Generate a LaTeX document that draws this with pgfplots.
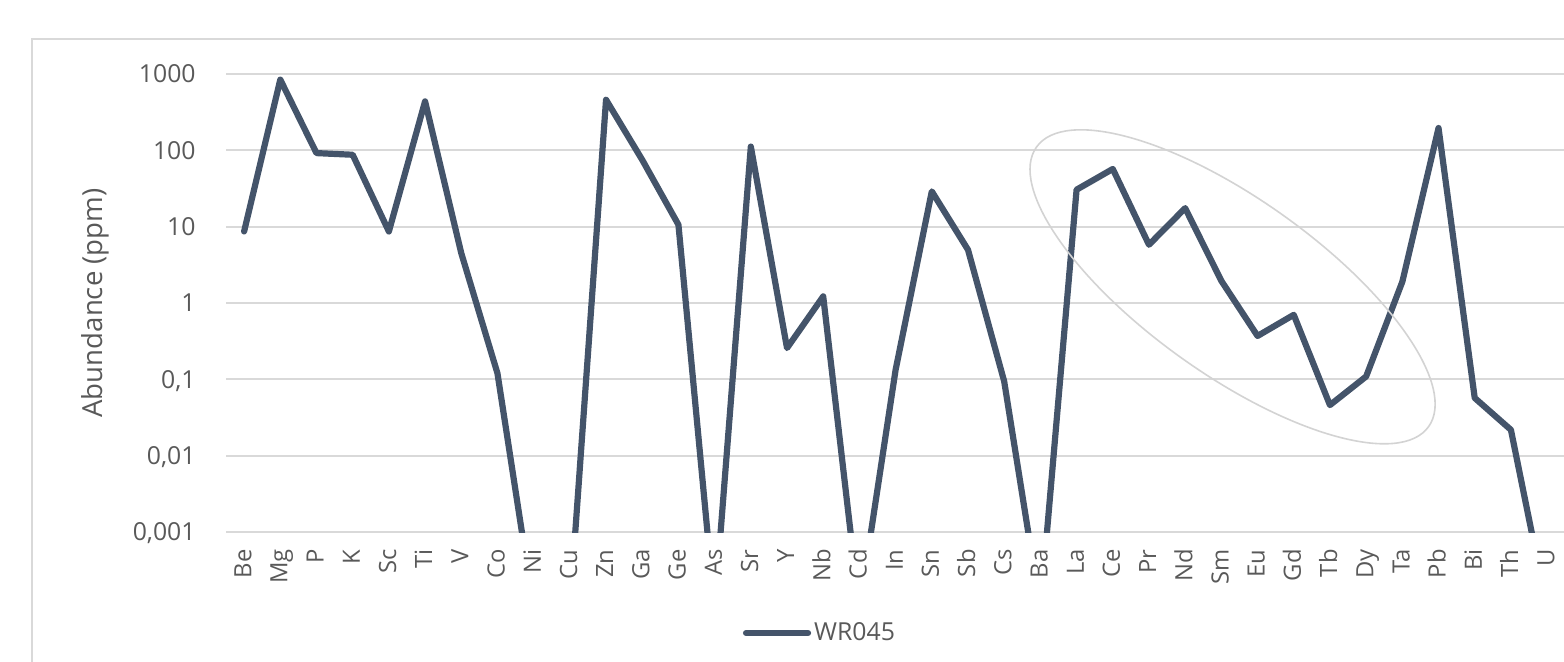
\documentclass[border=0pt]{standalone}
\usepackage{pgfplots}
\usepackage{pgfplotstable}
\pgfplotsset{compat=1.18}
\usepackage{fontspec}
\setmainfont{Open Sans}

\definecolor{seriesblue}{HTML}{44546A}
\definecolor{gridgray}{HTML}{D9D9D9}
\definecolor{labelgray}{HTML}{595959}
\definecolor{ringgray}{HTML}{D3D3D3}

% Element abundances of sample WR045 (ppm); values below 0.001 fall off the axis
\pgfplotstableread{
el  val
Be  8.65
Mg  843
P   92
K   87.5
Sc  8.65
Ti  438
V   4.5
Co  0.12
Ni  0.0001
Cu  0.0001
Zn  460
Ga  75
Ge  10.6
As  0.0001
Sr  112
Y   0.257
Nb  1.22
Cd  0.0001
In  0.133
Sn  29
Sb  4.98
Cs  0.094
Ba  0.0001
La  30.5
Ce  57
Pr  5.8
Nd  17.5
Sm  1.95
Eu  0.37
Gd  0.70
Tb  0.046
Dy  0.109
Ta  1.9
Pb  196
Bi  0.057
Th  0.0218
U   0.0001
}\abundance

\begin{document}
\begin{tikzpicture}
\path[use as bounding box] (0,0) rectangle (782bp,331bp);
% chart area outline
\draw[gridgray, line width=1bp] (16.2bp,-5bp) -- (16.2bp,311.3bp) -- (800bp,311.3bp);
\begin{axis}[
  at={(113bp,65bp)}, anchor=south west,
  scale only axis, width=669.6bp, height=229bp,
  xmin=-0.5, xmax=36.5,
  ymode=log, ymin=0.001, ymax=1000,
  xtick={0,...,36},
  xticklabels={Be,Mg,P,K,Sc,Ti,V,Co,Ni,Cu,Zn,Ga,Ge,As,Sr,Y,Nb,Cd,In,Sn,Sb,Cs,Ba,La,Ce,Pr,Nd,Sm,Eu,Gd,Tb,Dy,Ta,Pb,Bi,Th,U},
  ytick={0.001,0.01,0.1,1,10,100,1000},
  yticklabels={{0,001},{0,01},{0,1},1,10,100,1000},
  /pgf/number format/assume math mode=true,
  ymajorgrids, yminorgrids=false,
  grid style={gridgray, line width=1bp},
  axis line style={draw=none},
  major tick length=0pt, minor tick length=0pt,
  tick style={draw=none},
  xticklabel style={rotate=90, anchor=east, inner sep=0pt, text=labelgray,
    font=\fontsize{11.9bp}{14bp}\selectfont, text height=0.72em, text depth=0pt},
  xticklabel shift=8.5bp,
  yticklabel style={anchor=east, inner sep=0pt, text=labelgray,
    font=\fontsize{12.4bp}{14bp}\selectfont, text depth=0pt},
  yticklabel shift=15bp,
  ylabel={Abundance (ppm)},
  ylabel style={at={(axis description cs:-0.0972,0.5)}, anchor=center,
    text=labelgray, font=\fontsize{13.8bp}{16bp}\selectfont},
  legend style={at={(axis description cs:0.386,-0.2205)}, anchor=west,
    draw=none, fill=none, inner sep=0pt, outer sep=0pt,
    font=\fontsize{12.4bp}{14bp}\selectfont, text=labelgray,
    nodes={inner sep=1.5bp}},
  legend image code/.code={\draw[#1, line cap=round] (0bp,0bp) -- (31bp,0bp);},
]
\addplot[seriesblue, line width=3.1bp, line join=round, line cap=round, mark=none]
  table[x expr=\coordindex, y=val] {\abundance};
\addlegendentry{WR045}
% highlight around the rare earth elements
\draw[ringgray, line width=0.8bp] (axis cs:27.31,1.63)
  circle [x radius=120.4bp, y radius=43.8bp, rotate=-35.5];
\end{axis}
\end{tikzpicture}
\end{document}
